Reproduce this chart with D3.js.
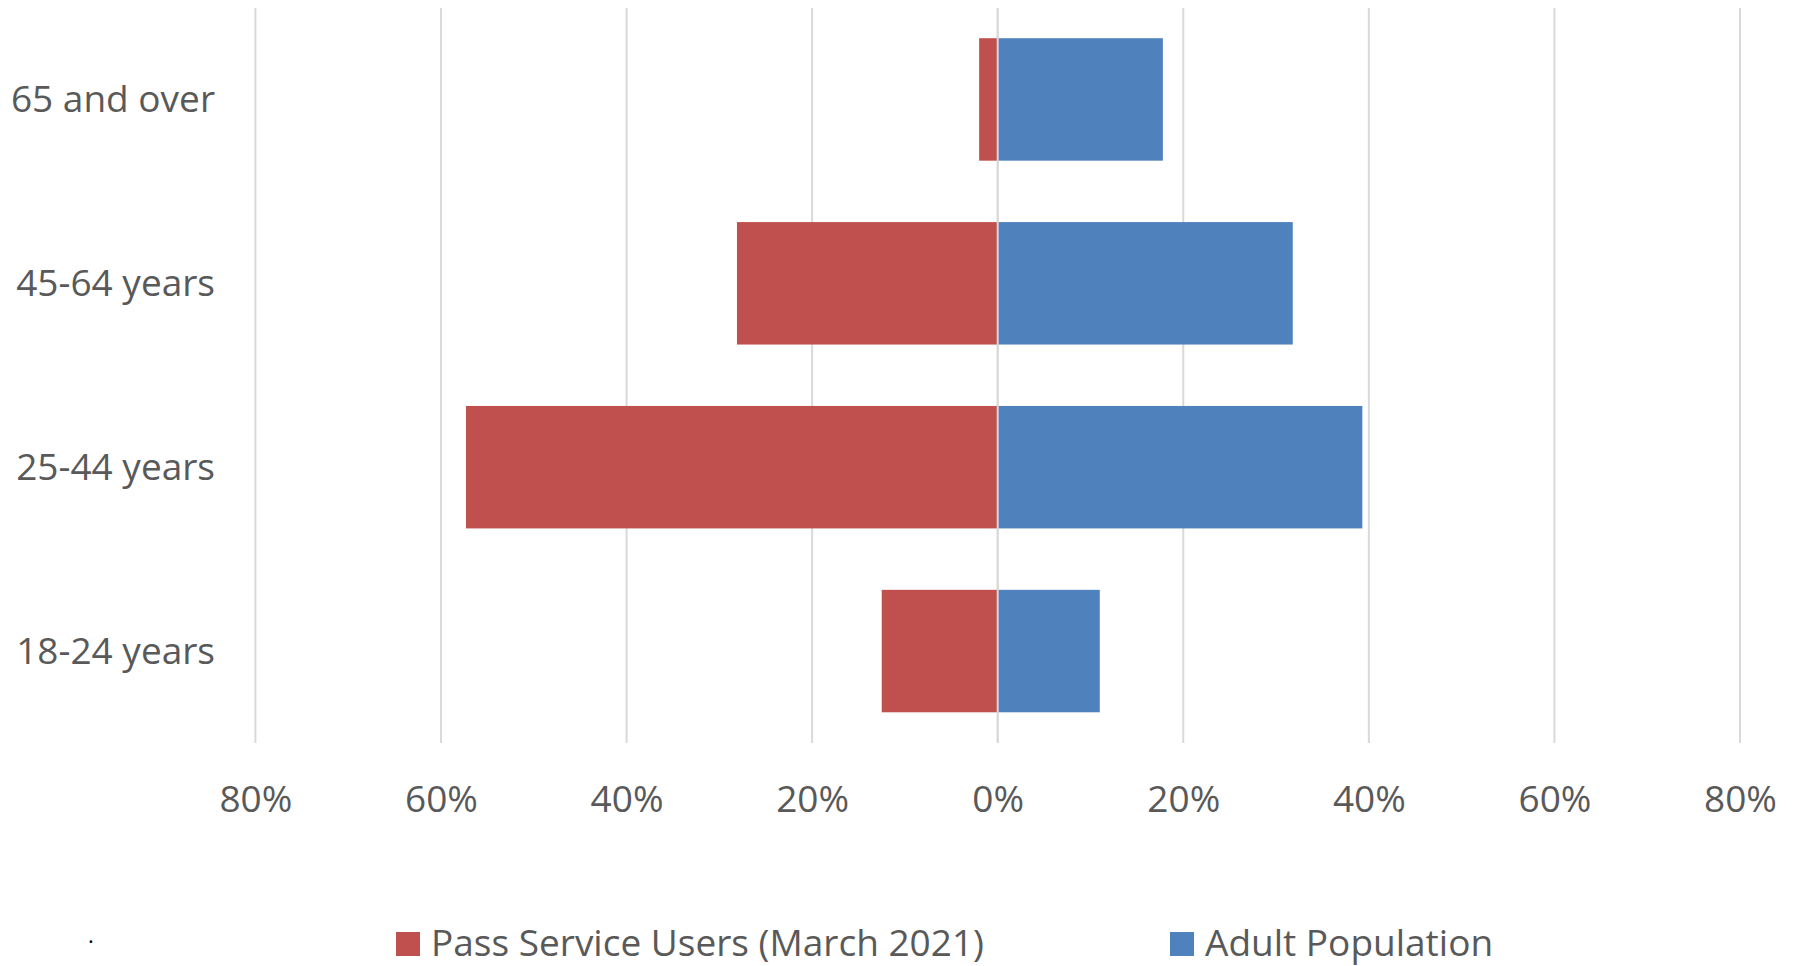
<!DOCTYPE html>
<html>
<head>
<meta charset="utf-8">
<script src="https://cdn.jsdelivr.net/npm/d3@7"></script>
<style>
  html, body { margin: 0; padding: 0; background: #ffffff; }
  svg { display: block; }
  text { font-family: "Open Sans", "Noto Sans", sans-serif; fill: #595959; }
</style>
</head>
<body>
<svg id="chart" width="1796" height="966"></svg>
<script>
// Age bands, top to bottom
const categories = ["65 and over", "45-64 years", "25-44 years", "18-24 years"];
// Share of pass service users in each age band (drawn to the left)
const passUsers = [0.020, 0.281, 0.573, 0.125];
// Share of the adult population in each age band (drawn to the right)
const adultPopulation = [0.178, 0.318, 0.393, 0.110];
// Gridline / tick positions on the value axis
const tickValues = [-0.8, -0.6, -0.4, -0.2, 0, 0.2, 0.4, 0.6, 0.8];
const seriesNames = ["Pass Service Users (March 2021)", "Adult Population"];
const seriesColors = ["#C0504D", "#4F81BD"];

const svg = d3.select("#chart");
const plotTop = 8, plotBottom = 743;

const x = d3.scaleLinear().domain([-0.8, 0.8]).range([255.4, 1740]);
const y = d3.scaleBand()
  .domain(categories)
  .range([7.5, 743])
  .paddingInner(0.334)
  .paddingOuter(0.167);

// Vertical gridlines
svg.append("g")
  .selectAll("line")
  .data(tickValues)
  .join("line")
  .attr("x1", d => x(d)).attr("x2", d => x(d))
  .attr("y1", plotTop).attr("y2", plotBottom)
  .attr("stroke", "#d9d9d9")
  .attr("stroke-width", 2);

const rows = categories.map((c, i) => ({ c, left: passUsers[i], right: adultPopulation[i] }));

// Pass service users: bars extend left of zero
svg.append("g")
  .selectAll("rect")
  .data(rows)
  .join("rect")
  .attr("x", d => x(-d.left))
  .attr("width", d => x(0) - x(-d.left))
  .attr("y", d => y(d.c))
  .attr("height", y.bandwidth())
  .attr("fill", seriesColors[0]);

// Adult population: bars extend right of zero
svg.append("g")
  .selectAll("rect")
  .data(rows)
  .join("rect")
  .attr("x", x(0))
  .attr("width", d => x(d.right) - x(0))
  .attr("y", d => y(d.c))
  .attr("height", y.bandwidth())
  .attr("fill", seriesColors[1]);

// Zero axis line over the bars
svg.append("line")
  .attr("x1", x(0)).attr("x2", x(0))
  .attr("y1", plotTop).attr("y2", plotBottom)
  .attr("stroke", "#d9d9d9")
  .attr("stroke-width", 2);

// Category labels
const yAxis = svg.append("g")
  .attr("transform", "translate(215,0)")
  .call(d3.axisLeft(y).tickSize(0).tickPadding(0));
yAxis.select(".domain").remove();
yAxis.selectAll("text")
  .attr("font-size", 37)
  .attr("dy", "0.35em")
  .style("font-family", "'Open Sans', 'Noto Sans', sans-serif")
  .attr("fill", "#595959");

// Value axis labels, shown as absolute percentages
const xAxis = svg.append("g")
  .attr("transform", "translate(0,812)")
  .call(d3.axisBottom(x)
    .tickValues(tickValues)
    .tickSize(0)
    .tickPadding(0)
    .tickFormat(d => Math.round(Math.abs(d) * 100) + "%"));
xAxis.select(".domain").remove();
xAxis.selectAll("text")
  .attr("font-size", 37)
  .attr("dy", 0)
  .style("font-family", "'Open Sans', 'Noto Sans', sans-serif")
  .attr("fill", "#595959");

// Legend
const legendItems = [
  { name: seriesNames[0], color: seriesColors[0], sx: 396, tx: 431 },
  { name: seriesNames[1], color: seriesColors[1], sx: 1170, tx: 1205 }
];
const legend = svg.append("g");
legend.selectAll("rect")
  .data(legendItems)
  .join("rect")
  .attr("x", d => d.sx).attr("y", 932)
  .attr("width", 24).attr("height", 24)
  .attr("fill", d => d.color);
legend.selectAll("text")
  .data(legendItems)
  .join("text")
  .attr("x", d => d.tx).attr("y", 956)
  .attr("font-size", 37)
  .text(d => d.name);

// Stray full stop at the lower left
svg.append("text")
  .attr("x", 88).attr("y", 943)
  .attr("font-size", 22)
  .style("fill", "#000000")
  .text(".");
</script>
</body>
</html>
